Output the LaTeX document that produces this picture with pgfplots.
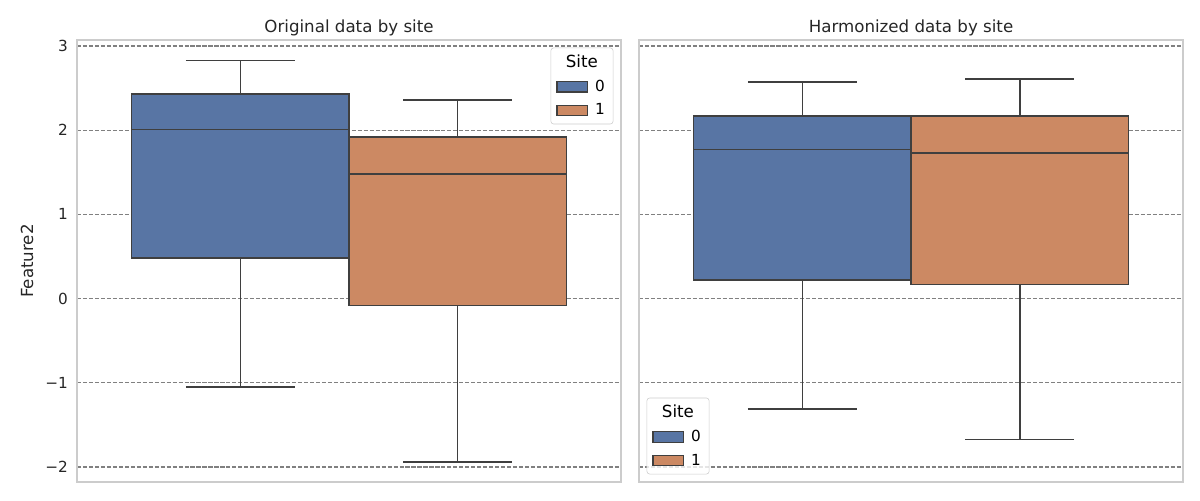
\documentclass[border=0pt]{standalone}
\usepackage{fontspec}
\setmainfont{DejaVu Sans}
\usepackage{pgfplots}
\pgfplotsset{compat=1.18}
\usepgfplotslibrary{statistics}

\definecolor{siteA}{HTML}{5875A4}
\definecolor{siteB}{HTML}{CC8963}
\definecolor{edge}{HTML}{3F3F3F}
\definecolor{frame}{HTML}{CCCCCC}
\definecolor{tick}{HTML}{262626}

\pgfplotsset{
  panel/.style={
    scale only axis, width=391.68pt, height=318.24pt,
    xmin=-0.5, xmax=0.5, ymin=-2.178, ymax=3.071,
    xtick=\empty, ytick={-2,-1,0,1,2,3},
    major tick length=0pt,
    axis line style={frame, line width=1.25pt},
    ymajorgrids=true,
    grid style={gray, line width=0.8pt, dash pattern=on 3pt off 1.3pt},
    tick label style={font=\fontsize{11}{13}\selectfont, text=tick},
    yticklabel style={xshift=-3pt},
    title style={font=\fontsize{12}{14}\selectfont, text=tick, yshift=-6.5pt},
    label style={font=\fontsize{12}{14}\selectfont, text=tick},
    legend cell align=left,
    legend image code/.code={\draw[#1, line width=0.8pt, sharp corners, fill opacity=1] (0pt,-3.8pt) rectangle (22pt,3.8pt);},
    legend style={font=\fontsize{11}{13}\selectfont, draw=frame, rounded corners=2pt,
      fill=white, fill opacity=0.8, text opacity=1, inner xsep=4pt, inner ysep=3pt,
      row sep=3.5pt, column sep=3pt},
    boxplot/draw direction=y,
    boxplot/box extend=0.4,
    boxplot/whisker extend=0.2,
  },
  bx/.style={boxplot prepared={#1}, forget plot, solid, draw=edge, line width=1pt, mark=none},
}

\begin{document}
\begin{tikzpicture}
\path[use as bounding box] (0,0) rectangle (864pt,360pt);

% left panel: original data
\begin{axis}[panel, at={(55.44pt,12.96pt)}, anchor=south west,
  title={Original data by site},
  yticklabels={−2,−1,0,1,2,3},
  ylabel={Feature2},
  ylabel style={at={(axis description cs:-0.092,0.5)}, anchor=center, rotate=0},
  legend style={at={(1,1)}, anchor=north east, xshift=-5.5pt, yshift=-5.5pt}]
\addplot[bx={draw direction=y, draw position=-0.2, lower whisker=-1.05, lower quartile=0.48,
  median=2.01, upper quartile=2.43, upper whisker=2.83}, fill=siteA] coordinates {};
\addplot[bx={draw direction=y, draw position=0.2, lower whisker=-1.94, lower quartile=-0.08,
  median=1.48, upper quartile=1.92, upper whisker=2.36}, fill=siteB] coordinates {};
\addlegendimage{empty legend}
\addlegendentry{\hspace*{-21pt}\fontsize{12}{14}\selectfont Site}
\addlegendimage{fill=siteA, draw=edge}
\addlegendentry{0}
\addlegendimage{fill=siteB, draw=edge}
\addlegendentry{1}
\end{axis}

% right panel: harmonized data
\begin{axis}[panel, at={(460.08pt,12.96pt)}, anchor=south west,
  title={Harmonized data by site},
  yticklabels={},
  legend style={at={(0,0)}, anchor=south west, xshift=5.5pt, yshift=5.5pt}]
\addplot[bx={draw direction=y, draw position=-0.2, lower whisker=-1.31, lower quartile=0.22,
  median=1.77, upper quartile=2.17, upper whisker=2.57}, fill=siteA] coordinates {};
\addplot[bx={draw direction=y, draw position=0.2, lower whisker=-1.67, lower quartile=0.17,
  median=1.73, upper quartile=2.17, upper whisker=2.61}, fill=siteB] coordinates {};
\addlegendimage{empty legend}
\addlegendentry{\hspace*{-21pt}\fontsize{12}{14}\selectfont Site}
\addlegendimage{fill=siteA, draw=edge}
\addlegendentry{0}
\addlegendimage{fill=siteB, draw=edge}
\addlegendentry{1}
\end{axis}
\end{tikzpicture}
\end{document}
